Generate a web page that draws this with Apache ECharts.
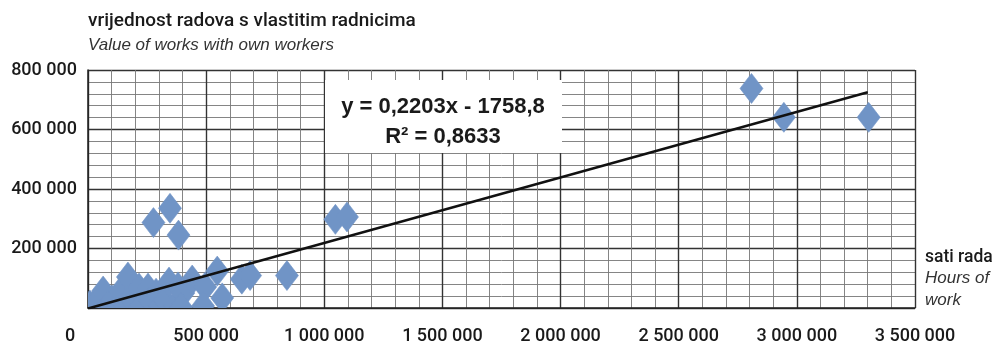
<!DOCTYPE html>
<html>
<head>
<meta charset="utf-8">
<script src="https://cdn.jsdelivr.net/npm/echarts@6/dist/echarts.min.js"></script>
<style>
html,body{margin:0;padding:0;background:#fff;}
#chart{width:998px;height:345px;}
</style>
</head>
<body>
<div id="chart"></div>
<script>
// Hours of work (x) and value of works with own workers (y)
const hoursOfWork = [
  8000, 38000, 64000, 93000, 102000, 136000, 157000, 169000, 178000, 216000, 220000,
  254000, 263000, 288000, 305000, 326000, 343000, 369000, 381000, 403000, 394000,
  441000, 496000, 487000, 568000, 547000,
  277000, 347000, 383000,
  651000, 686000, 842000,
  1047000, 1096000,
  2808000, 2945000, 3304000
];
const valueOfWorks = [
  10000, 24000, 57000, 3000, 27000, 54000, 7000, 104000, 34000, 67000, 3000,
  67000, 24000, 50000, 7000, 24000, 87000, 7000, 71000, 50000, 3000,
  94000, 71000, 7000, 34000, 124000,
  287000, 335000, 245000,
  97000, 109000, 109000,
  298000, 306000,
  738000, 641000, 641000
];
// Linear trend: y = 0,2203x - 1758,8
const trendSlope = 0.2203;
const trendIntercept = -1758.8;
const trendX = [0, 3300000];
const xTicks = [0, 500000, 1000000, 1500000, 2000000, 2500000, 3000000, 3500000];
const yTicks = [0, 200000, 400000, 600000, 800000];

function fmt(v){
  return String(Math.round(v)).replace(/\B(?=(\d{3})+(?!\d))/g, ' ');
}

const points = hoursOfWork.map((x, i) => [x, valueOfWorks[i]]);
const trend = trendX.map(x => [x, trendSlope * x + trendIntercept]);

const FONT = "Roboto, 'Liberation Sans', Arial, sans-serif";
const TXT = '#1a1a1a';
const BLUE = '#7094c6';
const HW = 11.5, HH = 15;

const chart = echarts.init(document.getElementById('chart'), null, {renderer: 'canvas'});
chart.setOption({
  animation: false,
  backgroundColor: '#fff',
  grid: {left: 88, right: 83, top: 70, bottom: 37, containLabel: false},
  xAxis: {
    type: 'value',
    min: xTicks[0],
    max: xTicks[xTicks.length - 1],
    interval: xTicks[1] - xTicks[0],
    axisLine: {show: true, lineStyle: {color: '#222', width: 1.5}},
    axisTick: {show: false},
    minorTick: {show: false, splitNumber: 5},
    splitLine: {show: true, showMinLine: true, showMaxLine: true, lineStyle: {color: '#333', width: 1.4}},
    minorSplitLine: {show: true, lineStyle: {color: '#777', width: 0.9}},
    axisLabel: {
      margin: 19,
      fontFamily: FONT, fontSize: 18, fontWeight: 500, color: TXT,
      formatter: v => v === 0 ? '{z|0}' : fmt(v),
      rich: {z: {fontFamily: FONT, fontSize: 18, fontWeight: 500, color: TXT, padding: [0, 36, 0, 0]}}
    }
  },
  yAxis: {
    type: 'value',
    min: yTicks[0],
    max: yTicks[yTicks.length - 1],
    interval: yTicks[1] - yTicks[0],
    axisLine: {show: true, lineStyle: {color: '#222', width: 1.5}},
    axisTick: {show: false},
    minorTick: {show: false, splitNumber: 5},
    splitLine: {show: true, showMinLine: true, showMaxLine: true, lineStyle: {color: '#333', width: 1.4}},
    minorSplitLine: {show: true, lineStyle: {color: '#777', width: 0.9}},
    axisLabel: {
      margin: 11,
      fontFamily: FONT, fontSize: 18, fontWeight: 500, color: TXT,
      formatter: v => v === 0 ? '' : fmt(v)
    }
  },
  series: [
    {
      type: 'custom',
      data: points,
      clip: true,
      encode: {x: 0, y: 1},
      z: 2,
      renderItem: function (params, api) {
        const p = api.coord([api.value(0), api.value(1)]);
        return {
          type: 'polygon',
          shape: {points: [[p[0], p[1] - HH], [p[0] + HW, p[1]], [p[0], p[1] + HH], [p[0] - HW, p[1]]]},
          style: {fill: BLUE, stroke: BLUE, lineWidth: 0.6}
        };
      }
    },
    {
      type: 'line',
      data: trend,
      showSymbol: false,
      symbol: 'none',
      lineStyle: {color: '#111', width: 2.4},
      z: 3
    }
  ],
  graphic: [
    {type: 'text', left: 88, top: 12, style: {text: 'vrijednost radova s vlastitim radnicima', font: "500 19px Roboto, 'Liberation Sans', Arial, sans-serif", fill: TXT}},
    {type: 'text', left: 88, top: 37, style: {text: 'Value of works with own workers', font: "italic 17px 'Liberation Sans', Arial, sans-serif", fill: '#333'}},
    {type: 'text', left: 925, top: 249, style: {text: 'sati rada', font: "500 17.5px Roboto, 'Liberation Sans', Arial, sans-serif", fill: TXT}},
    {type: 'text', left: 925, top: 270, style: {text: 'Hours of', font: "italic 17px 'Liberation Sans', Arial, sans-serif", fill: '#333'}},
    {type: 'text', left: 925, top: 292, style: {text: 'work', font: "italic 17px 'Liberation Sans', Arial, sans-serif", fill: '#333'}},
    {type: 'rect', left: 325, top: 80, shape: {width: 237, height: 73}, style: {fill: '#fff'}, z: 10},
    {type: 'text', x: 443, y: 107, z: 11, style: {text: 'y = 0,2203x - 1758,8', font: "bold 22px 'Liberation Sans', Arial, sans-serif", fill: TXT, textAlign: 'center', textVerticalAlign: 'middle'}},
    {type: 'text', x: 443, y: 137, z: 11, style: {text: 'R² = 0,8633', font: "bold 22px 'Liberation Sans', Arial, sans-serif", fill: TXT, textAlign: 'center', textVerticalAlign: 'middle'}}
  ]
});
</script>
</body>
</html>
